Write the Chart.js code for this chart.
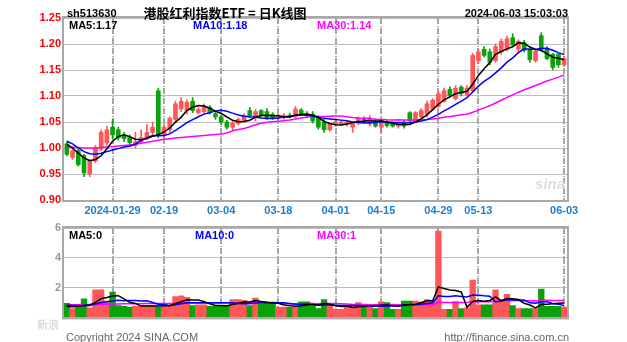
<!DOCTYPE html>
<html>
<head>
<meta charset="utf-8">
<script src="https://cdn.jsdelivr.net/npm/chart.js@4.4.1/dist/chart.umd.min.js"></script>
<style>
  body { margin: 0; background: #fff; }
  #wrap { position: relative; width: 627px; height: 342px; overflow: hidden; font-family: 'Liberation Sans', Arial, sans-serif; }
  canvas { position: absolute; left: 0; }
  .txt { position: absolute; white-space: nowrap; font-size: 11px; font-weight: bold; line-height: 12px; }
</style>
</head>
<body>
<div id="wrap">
  <canvas id="kline" width="627" height="215" style="top:0"></canvas>
  <canvas id="vol" width="627" height="112" style="top:215px"></canvas>

  <div class="txt" style="left:67px;top:7px;color:#000">sh513630</div>
  <div class="txt" style="left:0;width:450px;text-align:center;top:5px;font-size:13px;line-height:16px;font-family:'Noto Sans CJK SC',sans-serif;color:#000">港股红利指数ETF = 日K线图</div>
  <div class="txt" style="right:59px;top:7px;color:#000">2024-06-03 15:03:03</div>

  <div class="txt" id="ma5" style="left:69px;top:19px;color:#000"></div>
  <div class="txt" id="ma10" style="left:193px;top:19px;color:#0000ff"></div>
  <div class="txt" id="ma30" style="left:317px;top:19px;color:#ff00ff"></div>

  <div class="txt" id="vma5" style="left:69px;top:229px;color:#000"></div>
  <div class="txt" id="vma10" style="left:195px;top:229px;color:#0000ff"></div>
  <div class="txt" id="vma30" style="left:317px;top:229px;color:#ff00ff"></div>

  <div class="txt" style="left:535px;top:178px;font-size:15px;font-style:italic;color:#dcdcdc">sina</div>
  <div class="txt" style="left:37px;top:318px;font-weight:normal;color:#cfcfcf;font-family:'Noto Sans CJK SC',sans-serif">新浪</div>
  <div class="txt" style="left:66px;top:331px;font-weight:normal;color:#666">Copyright 2024 SINA.COM</div>
  <div class="txt" style="right:58px;top:331px;font-weight:normal;color:#666">http://finance.sina.com.cn</div>
</div>

<script>
// trading days shown on the daily chart
const dates = [
  '2024-01-17','2024-01-18','2024-01-19','2024-01-22','2024-01-23','2024-01-24','2024-01-25','2024-01-26','2024-01-29','2024-01-30',
  '2024-01-31','2024-02-01','2024-02-02','2024-02-05','2024-02-06','2024-02-07','2024-02-08','2024-02-19','2024-02-20','2024-02-21',
  '2024-02-22','2024-02-23','2024-02-26','2024-02-27','2024-02-28','2024-02-29','2024-03-01','2024-03-04','2024-03-05','2024-03-06',
  '2024-03-07','2024-03-08','2024-03-11','2024-03-12','2024-03-13','2024-03-14','2024-03-15','2024-03-18','2024-03-19','2024-03-20',
  '2024-03-21','2024-03-22','2024-03-25','2024-03-26','2024-03-27','2024-03-28','2024-03-29','2024-04-01','2024-04-02','2024-04-03',
  '2024-04-08','2024-04-09','2024-04-10','2024-04-11','2024-04-12','2024-04-15','2024-04-16','2024-04-17','2024-04-18','2024-04-19',
  '2024-04-22','2024-04-23','2024-04-24','2024-04-25','2024-04-26','2024-04-29','2024-04-30','2024-05-06','2024-05-07','2024-05-08',
  '2024-05-09','2024-05-10','2024-05-13','2024-05-14','2024-05-15','2024-05-16','2024-05-17','2024-05-20','2024-05-21','2024-05-22',
  '2024-05-23','2024-05-24','2024-05-27','2024-05-28','2024-05-29','2024-05-30','2024-05-31','2024-06-03'
];
const tickDates = ['2024-01-29','2024-02-19','2024-03-04','2024-03-18','2024-04-01','2024-04-15','2024-04-29','2024-05-13','2024-06-03'];

const opens = [
  1.008,0.982,0.995,0.985,0.950,0.975,0.998,1.010,1.040,1.035,
  1.025,1.020,1.005,1.012,1.020,1.030,1.110,1.025,1.035,1.055,
  1.075,1.072,1.090,1.068,1.070,1.078,1.066,1.060,1.050,1.040,
  1.047,1.052,1.072,1.058,1.072,1.070,1.065,1.058,1.060,1.063,
  1.060,1.073,1.066,1.065,1.060,1.050,1.035,1.045,1.046,1.046,
  1.040,1.048,1.055,1.046,1.052,1.040,1.050,1.048,1.042,1.050,
  1.068,1.050,1.060,1.065,1.075,1.080,1.090,1.113,1.095,1.117,
  1.103,1.110,1.168,1.190,1.185,1.168,1.185,1.190,1.212,1.190,
  1.203,1.190,1.168,1.216,1.190,1.180,1.180,1.160
];
const highs = [
  1.012,0.998,0.998,0.988,0.978,1.005,1.035,1.042,1.055,1.040,
  1.030,1.025,1.030,1.035,1.045,1.050,1.115,1.045,1.060,1.090,
  1.097,1.092,1.097,1.078,1.085,1.082,1.070,1.063,1.053,1.052,
  1.058,1.066,1.078,1.074,1.074,1.076,1.068,1.065,1.066,1.067,
  1.080,1.076,1.070,1.070,1.062,1.055,1.048,1.055,1.053,1.052,
  1.050,1.060,1.060,1.062,1.056,1.058,1.053,1.050,1.050,1.053,
  1.070,1.070,1.076,1.090,1.095,1.108,1.115,1.118,1.120,1.120,
  1.120,1.182,1.190,1.195,1.190,1.200,1.210,1.215,1.220,1.208,
  1.207,1.195,1.190,1.222,1.195,1.182,1.182,1.176
];
const lows = [
  0.985,0.978,0.965,0.945,0.945,0.972,0.995,1.005,1.018,1.015,
  1.012,1.005,1.000,1.008,1.016,1.026,1.020,1.020,1.030,1.050,
  1.070,1.065,1.068,1.065,1.066,1.065,1.055,1.045,1.036,1.035,
  1.044,1.050,1.058,1.052,1.060,1.055,1.055,1.055,1.055,1.058,
  1.058,1.062,1.058,1.048,1.036,1.030,1.032,1.042,1.044,1.042,
  1.030,1.045,1.048,1.042,1.040,1.030,1.040,1.040,1.038,1.038,
  1.048,1.048,1.058,1.060,1.072,1.078,1.088,1.097,1.092,1.100,
  1.100,1.108,1.162,1.175,1.160,1.165,1.180,1.186,1.195,1.185,
  1.185,1.165,1.165,1.185,1.170,1.150,1.155,1.158
];
const closes = [
  0.988,0.995,0.968,0.952,0.975,1.000,1.030,1.035,1.025,1.020,
  1.018,1.010,1.012,1.020,1.030,1.040,1.025,1.040,1.057,1.085,
  1.090,1.088,1.072,1.074,1.080,1.068,1.060,1.050,1.040,1.048,
  1.055,1.062,1.062,1.070,1.063,1.058,1.058,1.060,1.062,1.060,
  1.075,1.066,1.062,1.052,1.040,1.035,1.046,1.050,1.050,1.050,
  1.048,1.057,1.052,1.058,1.042,1.052,1.043,1.042,1.047,1.042,
  1.052,1.068,1.072,1.085,1.092,1.104,1.110,1.100,1.115,1.105,
  1.115,1.178,1.185,1.178,1.165,1.195,1.205,1.210,1.198,1.205,
  1.188,1.170,1.186,1.190,1.172,1.155,1.160,1.172
];
const volumes = [
  0.95,0.60,0.70,1.25,0.65,1.85,1.85,1.10,1.70,0.80,
  0.75,0.70,0.75,0.80,0.80,0.80,0.70,0.85,0.85,1.40,
  1.45,1.35,0.80,0.85,0.85,0.75,0.75,0.80,0.80,1.20,
  1.20,1.15,0.80,1.30,0.90,0.95,0.90,0.70,0.70,0.70,
  0.75,1.05,1.05,0.75,0.60,1.20,0.80,0.55,0.55,0.70,
  0.75,1.00,0.75,0.75,0.60,1.05,1.00,0.55,0.55,1.10,
  1.10,1.10,1.05,1.20,1.10,5.80,0.55,0.55,1.05,0.60,
  0.65,2.50,0.85,0.85,0.85,1.85,1.20,1.55,0.80,0.60,
  0.60,0.60,0.60,1.90,0.75,0.75,0.75,0.70
];

// averages before a full window exists (they include sessions left of the chart)
const ma5Head = [1.007, 1.000, 0.990, 0.981];
const ma10Head = [1.013, 1.008, 1.000, 0.993, 0.989, 0.988, 0.990, 0.993, 0.996];
const ma30Head = [
  1.003,1.002,1.001,1.000,1.000,1.000,1.001,1.002,1.003,1.004,
  1.005,1.006,1.007,1.009,1.011,1.013,1.015,1.017,1.018,1.019,
  1.020,1.021,1.022,1.023,1.024,1.025,1.026,1.027,1.029
];
const volMa5Head = [0.75, 0.72, 0.75, 0.80];
const volMa10Head = [0.82, 0.80, 0.78, 0.80, 0.80, 0.90, 1.00, 1.05, 1.10];
const volMa30Head = [
  0.85,0.85,0.85,0.86,0.86,0.87,0.88,0.89,0.90,0.90,
  0.91,0.91,0.92,0.92,0.93,0.93,0.93,0.94,0.94,0.95,
  0.95,0.95,0.96,0.96,0.96,0.97,0.97,0.97,0.98
];

const RED = '#ff5757';
const GREEN = '#0aa10a';

function movingAvg(src, n, head) {
  return src.map((v, i) => {
    if (i < n - 1) return head[i];
    let s = 0;
    for (let k = i - n + 1; k <= i; k++) s += src[k];
    return s / n;
  });
}

const ma5 = movingAvg(closes, 5, ma5Head);
const ma10 = movingAvg(closes, 10, ma10Head);
const ma30 = movingAvg(closes, 30, ma30Head);
const vma5 = movingAvg(volumes, 5, volMa5Head);
const vma10 = movingAvg(volumes, 10, volMa10Head);
const vma30 = movingAvg(volumes, 30, volMa30Head);

const last = dates.length - 1;
document.getElementById('ma5').textContent = 'MA5:' + ma5[last].toFixed(2);
document.getElementById('ma10').textContent = 'MA10:' + ma10[last].toFixed(2);
document.getElementById('ma30').textContent = 'MA30:' + ma30[last].toFixed(2);
document.getElementById('vma5').textContent = 'MA5:' + Math.floor(vma5[last]);
document.getElementById('vma10').textContent = 'MA10:' + Math.floor(vma10[last]);
document.getElementById('vma30').textContent = 'MA30:' + Math.floor(vma30[last]);

const candleColors = closes.map((c, i) => (c >= opens[i] ? RED : GREEN));
const tickIdx = tickDates.map(d => dates.indexOf(d));

// dash-dot date lines under the candles, gray box over the plot edges
const frame = {
  id: 'frame',
  beforeDatasetsDraw(chart) {
    const { ctx, chartArea: a } = chart;
    const xs = chart.scales.x;
    ctx.save();
    ctx.fillStyle = '#a6a6a6';
    for (const i of tickIdx) {
      let px = xs.getPixelForValue(i);
      if (!isFinite(px)) px = a.left + (i + 0.5) * (a.right - a.left) / dates.length;
      px = Math.round(px) - 1;
      for (let y = a.top; y < a.bottom; y += 10) {
        ctx.fillRect(px, y, 2, Math.min(6, a.bottom - y));
        if (y + 8 < a.bottom) ctx.fillRect(px, y + 8, 2, 1);
      }
    }
    ctx.restore();
  },
  afterDraw(chart) {
    const { ctx, chartArea: a } = chart;
    ctx.save();
    ctx.strokeStyle = '#a8a8a8';
    ctx.lineWidth = 2;
    ctx.strokeRect(a.left - 1, a.top - 1, a.right - a.left + 2, a.bottom - a.top + 2);
    ctx.restore();
  }
};

const xAxis = (showLabels) => ({
  offset: true,
  grid: { display: false, drawTicks: false },
  border: { display: false },
  ticks: {
    display: showLabels,
    autoSkip: false,
    minRotation: 0,
    maxRotation: 0,
    padding: 4,
    color: '#1a7fd4',
    font: { family: 'Liberation Sans', size: 11, weight: 'bold' },
    callback: (v, i) => {
      if (!tickIdx.includes(i)) return '';
      return i === tickIdx[0] ? dates[i] : dates[i].slice(5);
    }
  },
  afterFit: s => { s.height = showLabels ? 15 : 0; }
});

const lineSet = (data, color) => ({
  type: 'line',
  data,
  borderColor: color,
  borderWidth: 1.5,
  pointRadius: 0,
  tension: 0,
  order: 1
});

new Chart(document.getElementById('kline'), {
  type: 'bar',
  data: {
    labels: dates,
    datasets: [
      lineSet(ma5, '#000000'),
      lineSet(ma10, '#0000ff'),
      lineSet(ma30, '#ff00ff'),
      {
        data: opens.map((o, i) => [o, closes[i]]),
        backgroundColor: candleColors,
        barThickness: 4,
        grouped: false,
        order: 2
      },
      {
        data: lows.map((l, i) => [l, highs[i]]),
        backgroundColor: candleColors,
        barThickness: 1,
        grouped: false,
        order: 3
      }
    ]
  },
  options: {
    responsive: false,
    animation: false,
    devicePixelRatio: 1,
    layout: { padding: { left: 0, right: 60, top: 18, bottom: 0 } },
    plugins: { legend: { display: false }, tooltip: { enabled: false } },
    scales: {
      x: xAxis(true),
      y: {
        min: 0.9,
        max: 1.25,
        grid: { color: '#bdbdbd', drawTicks: false },
        border: { display: false },
        ticks: {
          stepSize: 0.05,
          padding: 3,
          color: '#ff0000',
          font: { family: 'Liberation Sans', size: 11, weight: 'bold' },
          callback: v => v.toFixed(2)
        },
        afterFit: s => { s.width = 64; }
      }
    }
  },
  plugins: [frame]
});

new Chart(document.getElementById('vol'), {
  type: 'bar',
  data: {
    labels: dates,
    datasets: [
      lineSet(vma5, '#000000'),
      lineSet(vma10, '#0000ff'),
      lineSet(vma30, '#ff00ff'),
      {
        data: volumes,
        backgroundColor: candleColors,
        barPercentage: 1,
        categoryPercentage: 1,
        order: 2
      }
    ]
  },
  options: {
    responsive: false,
    animation: false,
    devicePixelRatio: 1,
    layout: { padding: { left: 0, right: 60, top: 13, bottom: 4 } },
    plugins: { legend: { display: false }, tooltip: { enabled: false } },
    scales: {
      x: xAxis(false),
      y: {
        min: 0,
        max: 6,
        grid: { color: '#bdbdbd', drawTicks: false },
        border: { display: false },
        ticks: {
          stepSize: 2,
          padding: 3,
          color: '#999999',
          font: { family: 'Liberation Sans', size: 11, weight: 'bold' },
          callback: v => (v === 0 ? '' : v)
        },
        afterFit: s => { s.width = 64; }
      }
    }
  },
  plugins: [frame]
});
</script>
</body>
</html>
